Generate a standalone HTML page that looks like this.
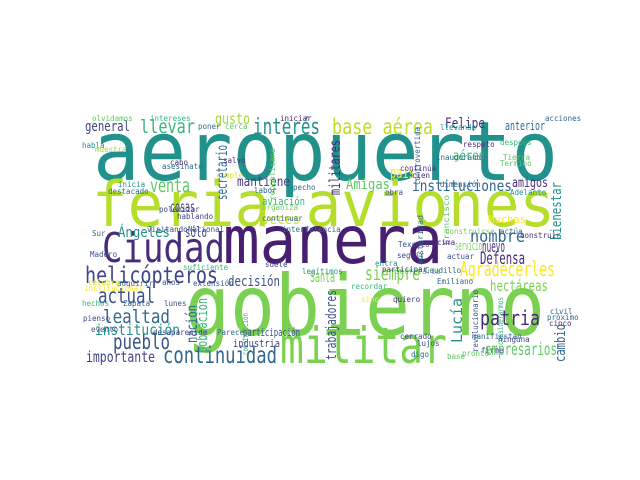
<!DOCTYPE html>
<html><head><meta charset="utf-8"><style>
html,body{margin:0;padding:0;background:#fff;}
svg{display:block;}
text{font-family:"DejaVu Sans Mono","Liberation Mono",monospace;}
</style></head><body>
<svg id="cloud" width="640" height="480" viewBox="0 0 640 480" xmlns="http://www.w3.org/2000/svg">
<rect x="0" y="0" width="640" height="480" fill="#fff"/>
</svg>
<script>
// words: text, x, baseline y, font size, width, color, rotation
const words = ["aeropuerto","feria aviones","manera","gobierno","Ciudad","militar","helicópteros","continuidad","base aérea","interés","Agradecerles","actual","pueblo","llevar","venta","lealtad","siempre","patria","nombre","Defensa","empresarios","instituciones","nuevo","general","gusto","Felipe","institución","importante","decisión","hectáreas","mantiene","cosas","Ángeles","Amigas","país","amigos","veces","sólo","aérea","Santa","anterior","servicio","participación","industria","aviación","Muchas"];
const xs = [93,92,223,185,102,280,85,163,332,253,460,98,113,140,150,103,365,480,470,480,485,412,482,85,215,445,95,86,228,490,237,170,118,346,390,512,262,185,453,310,505,455,243,233,262,488];
const ys = [180,226,263,335,262,363,283,363,134,134,276,303,349,133,192,323,280,325,242,264,355,191,252,131,124,128,335,362,286,291,186,212,237,189,178,187,224,237,160,282,130,250,336,347,205,223];
const sizes = [82,62,66,84,41,50,23,23,21,22,20,21,21,19,19,19,19,20,17,17,17,15,16,14,15,14,15,15,14,15,13,15,14,14,16,13,14,14,13,15,12,12,11,11,11,11];
const widths = [465,463,220,360,123,167,133,114,101,67,95,57,57,55,40,67,55,60,55,45,72,100,23,45,35,40,85,69,52,58,53,25,52,44,25,36,38,22,32,25,40,27,57,47,43,38];
const colors = ["#21918c","#b5de2b","#481f70","#7ad151","#472c7a","#7ad151","#414487","#31688e","#bddf26","#21918c","#fde725","#3b528b","#3b528b","#35b779","#5ec962","#31688e","#7ad151","#472c7a","#31688e","#472c7a","#5ec962","#31688e","#472c7a","#414487","#a0da39","#472c7a","#21918c","#414487","#3b528b","#7ad151","#443983","#414487","#21918c","#5ec962","#fde725","#472c7a","#d8e219","#414487","#35b779","#7ad151","#31688e","#7ad151","#3b528b","#414487","#35b779","#fde725"];
// vertical words
const vWords = ["secretario","militares","bienestar","nación","población","trabajadores","Lucía","cambio","republicana","controvertida","Francisco","construcción","austeridad","revolucionario","considerarmos"];
const vxs = [227,340,561,197,207,336,462,565,275,420,449,248,423,478,503];
const vys = [200,195,240,343,353,360,343,362,200,185,245,355,265,352,345];
const vSizes = [15,15,14,15,14,14,15,14,7.5,7.5,7.5,7.5,7.5,7.5,7.5];
const vWidths = [55,55,58,38,55,70,45,38,52,58,50,42,50,62,48];
const vColors = ["#31688e","#472c7a","#21918c","#31688e","#35b779","#3b528b","#21918c","#31688e","#5ec962","#31688e","#5ec962","#35b779","#31688e","#3b528b","#35b779"];
// small words
const sWords = ["olvidamos","intereses","iniciar","acciones","habla","muestra","poner","cerca","llevando","respeto","después","cabo","asesinato","salvó","inaugurando","Tierra","continúa","Termino","cumple","cien","inicia","destacado","pecho","labor","dimensión","obra","Adelanto","polemizar","organiza","hablando","continuar","Nacional","visitando","interferencia","construirse","actúa","construir","Madero","suficiente","suele","legítimos","Secretaría","extensión","adquirir","años","hechos","Zapata","lunes","pienso","evento","desaparecida","Parece","Texcoco","encima","seguir","actuar","entra","participar","Caudillo","Emiliano","recordar","sino","quiero","cerrado","lujos","digo","manifiestan","ninguna","firme","base","pronto","próximo","civil","cinco","Sur","celebro","institucional"];
const sxs = [92,150,280,545,82,95,198,225,440,463,500,170,162,223,436,503,400,500,216,412,118,108,293,254,440,385,510,159,262,177,262,188,147,282,445,500,520,90,183,265,302,395,193,117,162,82,123,164,83,91,153,217,398,428,397,447,375,382,425,437,351,361,393,400,417,411,472,498,481,447,462,547,550,549,92,88,84];
const sys = [121,121,121,121,148,152,129,129,130,147,145,165,169,163,160,160,171,166,178,178,187,194,190,193,187,195,195,212,210,219,221,232,232,232,234,234,238,257,270,267,274,274,286,286,285,306,306,306,321,332,335,335,247,245,258,259,266,272,273,284,289,302,302,339,346,357,339,342,353,359,356,320,314,326,236,285,291];
const sSizes = [7.5,7.5,7.5,7.5,7.5,7.5,7.5,7.5,7.5,7.5,7.5,7.5,7.5,7.5,7.5,7.5,7.5,7.5,7.5,7.5,7.5,7.5,7.5,7.5,7.5,7.5,7.5,7.5,7.5,7.5,7.5,7.5,7.5,7.5,7.5,7.5,7.5,7.5,7.5,7.5,7.5,7.5,7.5,7.5,7.5,7.5,7.5,7.5,7.5,7.5,7.5,7.5,7.5,7.5,7.5,7.5,7.5,7.5,7.5,7.5,7.5,7.5,7.5,7.5,7.5,7.5,7.5,7.5,7.5,7.5,7.5,7.5,7.5,7.5,7.5,7.5,7.5];
const sColors = ["#5ec962","#35b779","#481f70","#31688e","#21918c","#a0da39","#31688e","#5ec962","#21918c","#472c7a","#35b779","#472c7a","#31688e","#472c7a","#31688e","#5ec962","#443983","#5ec962","#d8e219","#472c7a","#21918c","#31688e","#31688e","#31688e","#31688e","#3b528b","#21918c","#414487","#7ad151","#414487","#31688e","#3b528b","#414487","#31688e","#7ad151","#31688e","#472c7a","#3b528b","#35b779","#414487","#21918c","#5ec962","#3b528b","#31688e","#3b528b","#35b779","#31688e","#3b528b","#414487","#3b528b","#414487","#31688e","#3b528b","#472c7a","#414487","#3b528b","#21918c","#414487","#31688e","#31688e","#35b779","#fde725","#472c7a","#414487","#3b528b","#31688e","#31688e","#414487","#3b528b","#5ec962","#5ec962","#31688e","#31688e","#472c7a","#31688e","#d8e219","#fde725"];

const NS = "http://www.w3.org/2000/svg";
const svg = document.getElementById("cloud");
function addWord(t, x, y, size, w, color, rot) {
  const el = document.createElementNS(NS, "text");
  el.setAttribute("x", x);
  el.setAttribute("y", y);
  el.setAttribute("font-size", size);
  el.setAttribute("fill", color);
  if (w) { el.setAttribute("textLength", w); el.setAttribute("lengthAdjust", "spacingAndGlyphs"); }
  if (rot) el.setAttribute("transform", "rotate(" + rot + " " + x + " " + y + ")");
  el.textContent = t;
  
  
  svg.appendChild(el);
}
for (let i = 0; i < words.length; i++) addWord(words[i], xs[i], ys[i], sizes[i], widths[i], colors[i], 0);
for (let i = 0; i < vWords.length; i++) addWord(vWords[i], vxs[i], vys[i], vSizes[i], vWidths[i], vColors[i], -90);
for (let i = 0; i < sWords.length; i++) addWord(sWords[i], sxs[i], sys[i], sSizes[i], 0, sColors[i], 0);
</script>
</body></html>
